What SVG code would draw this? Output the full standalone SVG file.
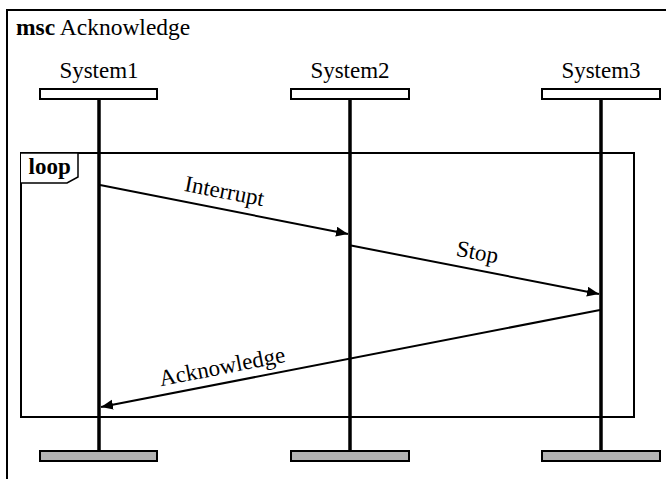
<svg xmlns="http://www.w3.org/2000/svg" width="666" height="479" viewBox="0 0 666 479" font-family="'Liberation Serif', 'Times New Roman', 'DejaVu Serif', serif">
  <style>
    text { font-family: 'Liberation Serif', 'Times New Roman', 'DejaVu Serif', serif; fill: #000; }
    .name { font-size: 23px; text-anchor: middle; }
    .label { font-size: 23px; text-anchor: middle; }
    .head { fill: #fff; stroke: #000; stroke-width: 2; }
    .foot { fill: #b3b3b3; stroke: #000; stroke-width: 2; }
    .life { stroke: #000; stroke-width: 3.5; fill: none; }
    .msg { stroke: #000; stroke-width: 2; fill: none; marker-end: url(#arrow); }
    .frame { fill: none; stroke: #000; stroke-width: 2; }
  </style>
  <defs>
    <marker id="arrow" markerUnits="userSpaceOnUse" markerWidth="13" markerHeight="11" refX="12" refY="5" orient="auto">
      <path d="M0,0 L12,5 L0,10 z" fill="#000"/>
    </marker>
  </defs>

  <rect width="666" height="479" fill="#fff"/>

  <!-- outer msc frame -->
  <g id="msc-frame">
    <rect class="frame" x="7" y="10" width="720" height="520"/>
    <text x="16" y="35" font-size="23.5"><tspan font-weight="bold">msc</tspan> Acknowledge</text>
  </g>

  <!-- loop combined fragment -->
  <g id="loop">
    <rect class="frame" x="21" y="153" width="613" height="264"/>
    <path d="M21,153 H78 V177 L67,183 H21" fill="#fff" stroke="#000" stroke-width="1.5"/>
    <text x="28.5" y="174" font-size="23" font-weight="bold">loop</text>
  </g>

  <!-- lifelines -->
  <g id="system1">
    <text class="name" x="99" y="78">System1</text>
    <line class="life" x1="99" y1="100" x2="99" y2="451"/>
    <rect class="head" x="40" y="89" width="117" height="10"/>
    <rect class="foot" x="40" y="451" width="117" height="10"/>
  </g>
  <g id="system2">
    <text class="name" x="350" y="78">System2</text>
    <line class="life" x1="350" y1="100" x2="350" y2="451"/>
    <rect class="head" x="291" y="89" width="118" height="10"/>
    <rect class="foot" x="291" y="451" width="118" height="10"/>
  </g>
  <g id="system3">
    <text class="name" x="601" y="78">System3</text>
    <line class="life" x1="601" y1="100" x2="601" y2="451"/>
    <rect class="head" x="542" y="89" width="118" height="10"/>
    <rect class="foot" x="542" y="451" width="118" height="10"/>
  </g>

  <!-- messages -->
  <g id="connectors">
    <line class="msg" x1="100" y1="185" x2="348" y2="234"/>
    <text class="label" transform="translate(223,198.5) rotate(11.1)">Interrupt</text>

    <line class="msg" x1="351" y1="245.5" x2="599" y2="294"/>
    <text class="label" transform="translate(476,259.5) rotate(11.1)">Stop</text>

    <line class="msg" x1="600" y1="310" x2="101" y2="407"/>
    <text class="label" transform="translate(223.5,374) rotate(-11)">Acknowledge</text>
  </g>
</svg>
